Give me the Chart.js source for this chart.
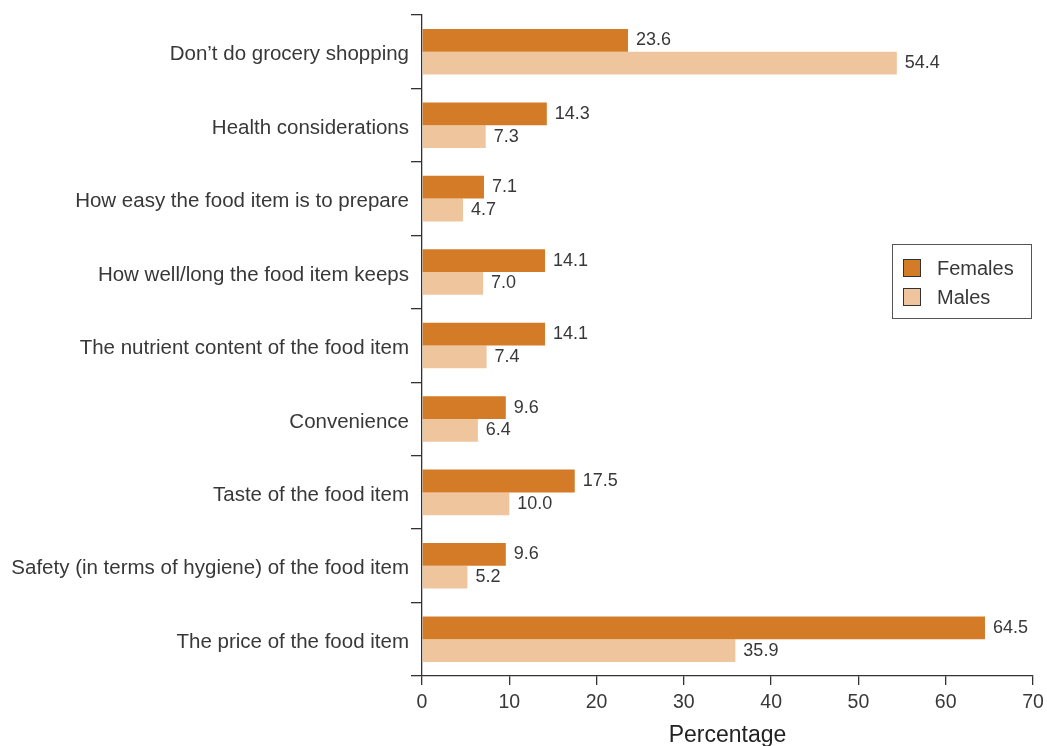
<!DOCTYPE html>
<html>
<head>
<meta charset="utf-8">
<script src="https://cdn.jsdelivr.net/npm/chart.js@4"></script>
<style>
  body { margin: 0; background: #fff; }
</style>
</head>
<body>
<canvas id="myChart" width="1047" height="746"></canvas>
<script>
var categories = [
    'Don\u2019t do grocery shopping',
    'Health considerations',
    'How easy the food item is to prepare',
    'How well/long the food item keeps',
    'The nutrient content of the food item',
    'Convenience',
    'Taste of the food item',
    'Safety (in terms of hygiene) of the food item',
    'The price of the food item'
];
var females = [23.6, 14.3, 7.1, 14.1, 14.1, 9.6, 17.5, 9.6, 64.5];
var males = [54.4, 7.3, 4.7, 7.0, 7.4, 6.4, 10.0, 5.2, 35.9];
var xTicks = [0, 10, 20, 30, 40, 50, 60, 70];

var FONT = '"Liberation Sans", Arial, sans-serif';
var TEXT = '#383838';

// numbers printed just past the end of each bar
var valueLabels = {
    id: 'valueLabels',
    afterDatasetsDraw: function (chart) {
        var ctx = chart.ctx;
        ctx.save();
        ctx.font = '18px ' + FONT;
        ctx.fillStyle = TEXT;
        ctx.textAlign = 'left';
        ctx.textBaseline = 'middle';
        chart.data.datasets.forEach(function (ds, i) {
            chart.getDatasetMeta(i).data.forEach(function (bar, j) {
                ctx.fillText(ds.data[j].toFixed(1), bar.x + 8, bar.y);
            });
        });
        ctx.restore();
    }
};

// boxed legend sitting on the right side of the plot
var boxLegend = {
    id: 'boxLegend',
    afterDraw: function (chart) {
        var ctx = chart.ctx;
        var x = 892, y = 244, w = 139, h = 74;
        ctx.save();
        ctx.fillStyle = '#fff';
        ctx.fillRect(x, y, w, h);
        ctx.strokeStyle = '#555';
        ctx.lineWidth = 1;
        ctx.strokeRect(x + 0.5, y + 0.5, w, h);
        ctx.font = '20px ' + FONT;
        ctx.textBaseline = 'middle';
        chart.data.datasets.forEach(function (ds, i) {
            var ry = y + 15 + i * 29;
            ctx.fillStyle = ds.backgroundColor;
            ctx.fillRect(x + 11, ry, 18, 18);
            ctx.strokeStyle = '#333';
            ctx.strokeRect(x + 11.5, ry + 0.5, 17, 17);
            ctx.fillStyle = TEXT;
            ctx.fillText(ds.label, x + 45, ry + 10);
        });
        ctx.restore();
    }
};

var ctx = document.getElementById('myChart').getContext('2d');
var myChart = new Chart(ctx, {
    type: 'bar',
    data: {
        labels: categories,
        datasets: [
            { label: 'Females', data: females, backgroundColor: '#D47B28' },
            { label: 'Males', data: males, backgroundColor: '#EEC59D' }
        ]
    },
    options: {
        indexAxis: 'y',
        responsive: false,
        animation: false,
        layout: { padding: { top: 15, right: 14, left: 0, bottom: 0 } },
        datasets: { bar: { barPercentage: 1, categoryPercentage: 0.62 } },
        plugins: {
            legend: { display: false },
            tooltip: { enabled: false }
        },
        scales: {
            x: {
                min: 0,
                max: 70,
                afterBuildTicks: function (axis) {
                    axis.ticks = xTicks.map(function (v) { return { value: v }; });
                },
                afterFit: function (axis) {
                    axis.height = 70;
                    axis.paddingRight = 0;
                },
                border: { display: true, color: '#333', width: 1.3 },
                grid: { drawOnChartArea: false, tickLength: 9, color: '#333', lineWidth: 1.3 },
                ticks: { color: TEXT, font: { size: 19.5, family: FONT }, padding: 6 },
                title: {
                    display: true,
                    text: 'Percentage',
                    color: '#222',
                    font: { size: 23, family: FONT },
                    padding: { top: 4, bottom: -3 }
                }
            },
            y: {
                afterFit: function (axis) { axis.width = 422; },
                border: { display: true, color: '#333', width: 1.3 },
                grid: { drawOnChartArea: false, tickLength: 11, color: '#333', lineWidth: 1.3 },
                ticks: { color: TEXT, font: { size: 20.5, family: FONT }, padding: 2, labelOffset: 3 }
            }
        }
    },
    plugins: [valueLabels, boxLegend]
});
</script>
</body>
</html>
